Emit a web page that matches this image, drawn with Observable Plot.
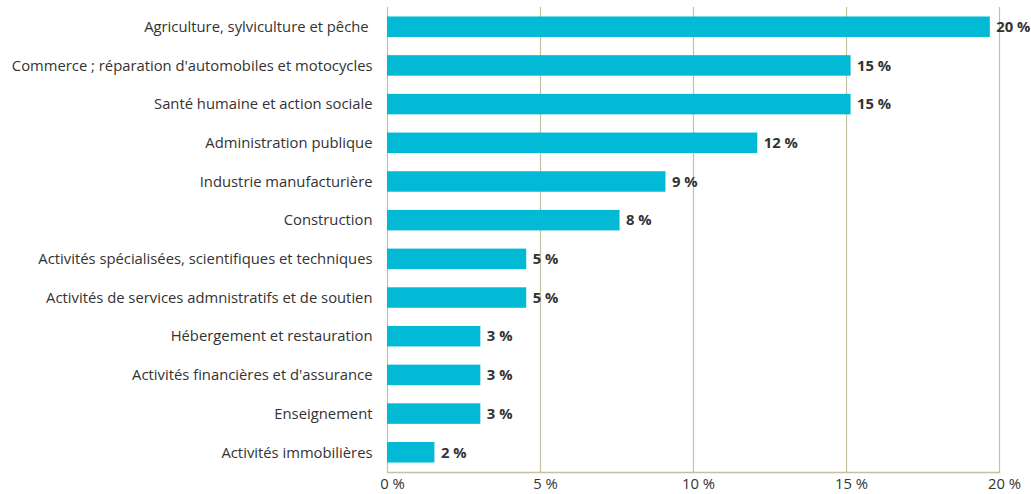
<!DOCTYPE html>
<html>
<head>
<meta charset="utf-8">
<script src="https://cdn.jsdelivr.net/npm/d3@7"></script>
<script src="https://cdn.jsdelivr.net/npm/@observablehq/plot@0.6"></script>
<style>
  html, body { margin: 0; padding: 0; background: #fff; }
  #chart { width: 1031px; height: 494px; }
  svg { font-family: "Open Sans", sans-serif; }
</style>
</head>
<body>
<div id="chart"></div>
<script>
const sectors = [
  "Agriculture, sylviculture et pêche\u00a0",
  "Commerce ; réparation d'automobiles et motocycles",
  "Santé humaine et action sociale",
  "Administration publique",
  "Industrie manufacturière",
  "Construction",
  "Activités spécialisées, scientifiques et techniques",
  "Activités de services admnistratifs et de soutien",
  "Hébergement et restauration",
  "Activités financières et d'assurance",
  "Enseignement",
  "Activités immobilières"
];
const values = [19.7, 15.15, 15.15, 12.1, 9.1, 7.6, 4.55, 4.55, 3.05, 3.05, 3.05, 1.55];
const valueLabels = ["20 %", "15 %", "15 %", "12 %", "9 %", "8 %", "5 %", "5 %", "3 %", "3 %", "3 %", "2 %"];
const xTicks = [0, 5, 10, 15, 20];
const xTickLabels = ["0 %", "5 %", "10 %", "15 %", "20 %"];

const data = sectors.map((s, i) => ({sector: s, value: values[i], label: valueLabels[i]}));

const gridColor = "#c4c0a0";
const textColor = "#333333";
const fmt = d => xTickLabels[xTicks.indexOf(d)];

const plot = Plot.plot({
  width: 1031,
  height: 494,
  marginLeft: 387,
  marginRight: 32,
  marginTop: 7,
  marginBottom: 22,
  style: {fontFamily: "Open Sans, sans-serif", fontSize: "14.8px", color: textColor, background: "#fff"},
  x: {domain: [0, 20]},
  y: {domain: sectors, paddingInner: 0.47, paddingOuter: 0.245, round: false, label: null},
  marks: [
    Plot.ruleX(xTicks, {stroke: gridColor, strokeWidth: 1.2}),
    Plot.frame({anchor: "bottom", stroke: gridColor, strokeWidth: 1.5}),
    Plot.barX(data, {x: "value", y: "sector", fill: "#03bad6"}),
    Plot.text(data, {x: "value", y: "sector", text: "label", textAnchor: "start", dx: 6, fontWeight: "bold", fontSize: 14.8, fill: textColor}),
    Plot.axisY({tickSize: 0, tickPadding: 15, label: null, fontSize: 14.8, fill: textColor}),
    Plot.axisX({ticks: xTicks, tickFormat: fmt, tickSize: 0, tickPadding: 6, label: null, fontSize: 14.8, fill: textColor, dx: 5})
  ]
});
document.getElementById("chart").appendChild(plot);
</script>
</body>
</html>
